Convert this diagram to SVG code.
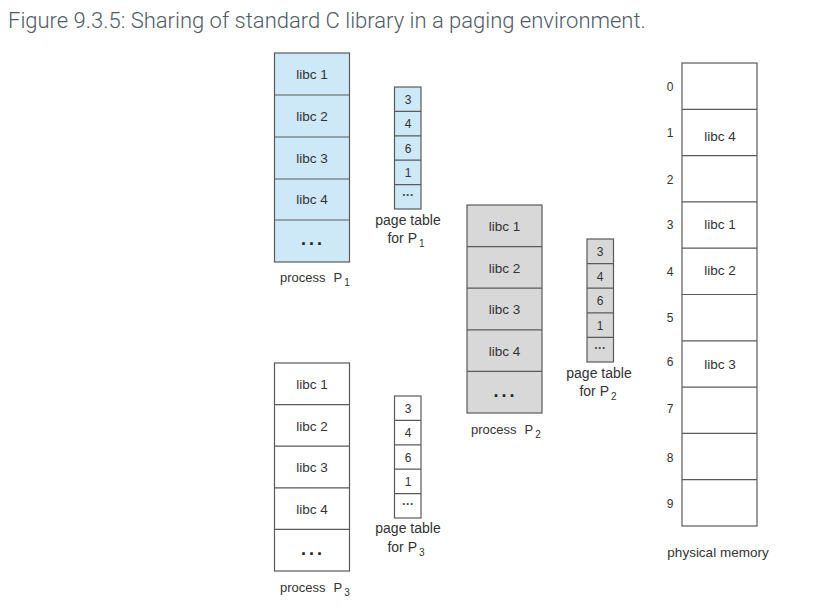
<svg xmlns="http://www.w3.org/2000/svg" width="834" height="616" viewBox="0 0 834 616">
<style>
.title{font-family:Roboto,"Liberation Sans",sans-serif;font-weight:300;font-size:22px;fill:#4f5d66}
.box{stroke:#5a5a5a;stroke-width:1.2}
.blue{fill:#cde8f6}
.gray{fill:#d8d8d8}
.white{fill:#ffffff}
.sep{stroke:#5a5a5a;stroke-width:1.2;fill:none}
.t{font-family:"Liberation Sans",Arial,sans-serif;font-size:13.5px;fill:#333;text-anchor:middle}
.n{font-family:"Liberation Sans",Arial,sans-serif;font-size:12px;fill:#333;text-anchor:middle}
.lbl{font-family:"Liberation Sans",Arial,sans-serif;font-size:13px;fill:#333}
.pt{font-family:"Liberation Sans",Arial,sans-serif;font-size:14px;fill:#333;text-anchor:middle}
.sub{font-size:10px}
.dots{font-family:"Liberation Sans",Arial,sans-serif;font-size:18px;font-weight:bold;fill:#222;text-anchor:middle;letter-spacing:3px}
.sdots{font-family:"Liberation Sans",Arial,sans-serif;font-size:12px;font-weight:bold;fill:#444;text-anchor:middle;letter-spacing:0.5px}
</style>
<rect width="834" height="616" fill="#ffffff"/>
<text class="title" x="8" y="28">Figure 9.3.5: Sharing of standard C library in a paging environment.</text>

<g id="process-p1">
<rect class="box blue" x="274.5" y="53" width="75" height="209"/>
<path class="sep" d="M274.5 95H349.5M274.5 137H349.5M274.5 179H349.5M274.5 220H349.5"/>
<text class="t" x="312" y="79">libc 1</text>
<text class="t" x="312" y="121">libc 2</text>
<text class="t" x="312" y="163">libc 3</text>
<text class="t" x="312" y="204">libc 4</text>
<text class="dots" x="313" y="245">...</text>
<text class="lbl" x="280" y="282">process<tspan dx="8">P</tspan><tspan class="sub" dx="2" dy="4">1</tspan></text>
</g>

<g id="pagetable-p1">
<rect class="box blue" x="394.5" y="87" width="26.5" height="122"/>
<path class="sep" d="M394.5 111.4H421M394.5 135.8H421M394.5 160.2H421M394.5 184.6H421"/>
<text class="n" x="408" y="104">3</text>
<text class="n" x="408" y="128">4</text>
<text class="n" x="408" y="152.5">6</text>
<text class="n" x="408" y="177">1</text>
<text class="sdots" x="408" y="196">...</text>
<text class="pt" x="408" y="225">page table</text>
<text class="pt" x="406" y="243">for<tspan dx="4">P</tspan><tspan class="sub" dx="2" dy="4">1</tspan></text>
</g>

<g id="process-p2">
<rect class="box gray" x="467" y="205" width="75" height="208"/>
<path class="sep" d="M467 246.6H542M467 288.2H542M467 329.8H542M467 371.4H542"/>
<text class="t" x="504.5" y="231">libc 1</text>
<text class="t" x="504.5" y="272.5">libc 2</text>
<text class="t" x="504.5" y="314">libc 3</text>
<text class="t" x="504.5" y="355.5">libc 4</text>
<text class="dots" x="505.5" y="397">...</text>
<text class="lbl" x="471" y="434">process<tspan dx="8">P</tspan><tspan class="sub" dx="2" dy="4">2</tspan></text>
</g>

<g id="pagetable-p2">
<rect class="box gray" x="587" y="239" width="26.5" height="123"/>
<path class="sep" d="M587 263.6H613.5M587 288.2H613.5M587 312.8H613.5M587 337.4H613.5"/>
<text class="n" x="600" y="256">3</text>
<text class="n" x="600" y="280.5">4</text>
<text class="n" x="600" y="305">6</text>
<text class="n" x="600" y="329.5">1</text>
<text class="sdots" x="600" y="349">...</text>
<text class="pt" x="599" y="378">page table</text>
<text class="pt" x="598" y="396">for<tspan dx="4">P</tspan><tspan class="sub" dx="2" dy="4">2</tspan></text>
</g>

<g id="process-p3">
<rect class="box white" x="274.5" y="363" width="75" height="208"/>
<path class="sep" d="M274.5 404.6H349.5M274.5 446.2H349.5M274.5 487.8H349.5M274.5 529.4H349.5"/>
<text class="t" x="312" y="389">libc 1</text>
<text class="t" x="312" y="430.5">libc 2</text>
<text class="t" x="312" y="472">libc 3</text>
<text class="t" x="312" y="513.5">libc 4</text>
<text class="dots" x="313" y="555">...</text>
<text class="lbl" x="280" y="592">process<tspan dx="8">P</tspan><tspan class="sub" dx="2" dy="4">3</tspan></text>
</g>

<g id="pagetable-p3">
<rect class="box white" x="394.5" y="396" width="26.5" height="122"/>
<path class="sep" d="M394.5 420.4H421M394.5 444.8H421M394.5 469.2H421M394.5 493.6H421"/>
<text class="n" x="408" y="413">3</text>
<text class="n" x="408" y="437">4</text>
<text class="n" x="408" y="461.5">6</text>
<text class="n" x="408" y="486">1</text>
<text class="sdots" x="408" y="505">...</text>
<text class="pt" x="408" y="533">page table</text>
<text class="pt" x="406" y="552">for<tspan dx="4">P</tspan><tspan class="sub" dx="2" dy="4">3</tspan></text>
</g>

<g id="physical-memory">
<rect class="box white" x="682" y="63" width="75" height="463"/>
<path class="sep" d="M682 109.3H757M682 155.6H757M682 201.9H757M682 248.2H757M682 294.5H757M682 340.8H757M682 387.1H757M682 433.4H757M682 479.7H757"/>
<text class="n" x="670" y="91" font-size="13">0</text>
<text class="n" x="670" y="137" font-size="13">1</text>
<text class="n" x="670" y="184" font-size="13">2</text>
<text class="n" x="670" y="229" font-size="13">3</text>
<text class="n" x="670" y="276" font-size="13">4</text>
<text class="n" x="670" y="322" font-size="13">5</text>
<text class="n" x="670" y="366" font-size="13">6</text>
<text class="n" x="670" y="413" font-size="13">7</text>
<text class="n" x="670" y="462" font-size="13">8</text>
<text class="n" x="670" y="508" font-size="13">9</text>
<text class="t" x="720" y="141">libc 4</text>
<text class="t" x="720" y="229">libc 1</text>
<text class="t" x="720" y="275">libc 2</text>
<text class="t" x="720" y="369">libc 3</text>
<text class="t" x="718" y="557" font-size="14">physical memory</text>
</g>

<g id="connectors"/>
</svg>
